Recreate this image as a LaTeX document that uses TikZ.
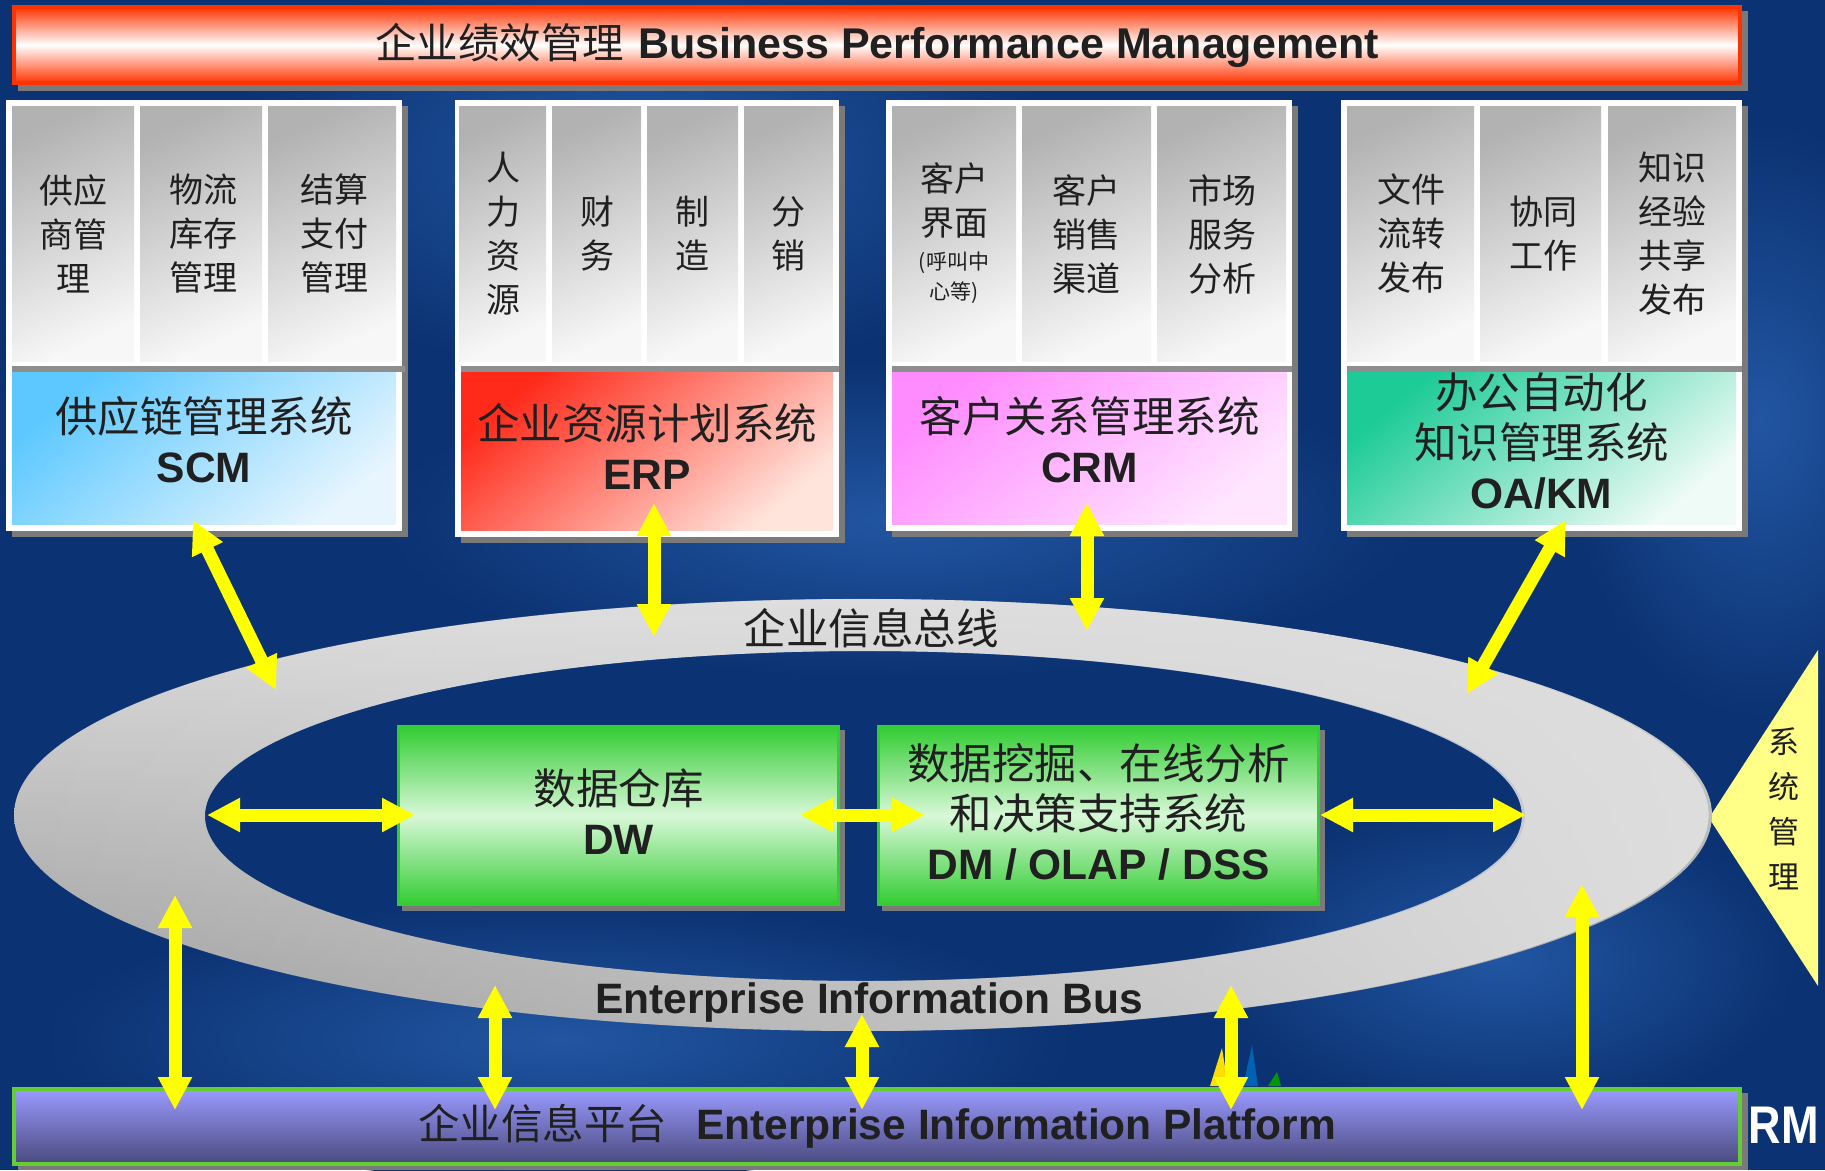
\documentclass[tikz,border=0pt]{standalone}
\usepackage{fontspec}
\setmainfont{Liberation Sans}
\newfontfamily\cjk{Noto Sans CJK SC}
\usetikzlibrary{arrows.meta,fadings}

\definecolor{navy}{HTML}{0B3272}
\definecolor{navylight}{HTML}{2256A2}
\definecolor{ink}{HTML}{202020}
\definecolor{titlered}{HTML}{FF3300}
\definecolor{shadowgray}{HTML}{7A7A7A}
\definecolor{ringlight}{HTML}{DEDEDE}
\definecolor{ringdark}{HTML}{9C9C9C}
\definecolor{scmdark}{HTML}{5CC8FF}
\definecolor{scmlight}{HTML}{E6F5FE}
\definecolor{erpdark}{HTML}{FF2A1A}
\definecolor{erplight}{HTML}{FFE4DC}
\definecolor{crmdark}{HTML}{FF8CFF}
\definecolor{crmlight}{HTML}{FFE6FF}
\definecolor{oadark}{HTML}{1CCB96}
\definecolor{oalight}{HTML}{EEFBF6}
\definecolor{dwgreen}{HTML}{33CC33}
\definecolor{dwpale}{HTML}{D8F8D8}
\definecolor{plattop}{HTML}{9A9AFF}
\definecolor{platbottom}{HTML}{4A4A7E}
\definecolor{platedge}{HTML}{66CC33}
\definecolor{sysyellow}{HTML}{FFFF88}
\definecolor{arrowyellow}{HTML}{FFFF00}

\begin{document}
\begin{tikzpicture}[x=1pt,y=-1pt,
  panel/.style={top color=black!30, bottom color=black!3, shading angle=25},
  coltext/.style={font=\cjk\fontsize{34}{44}\selectfont, text=ink, align=center, inner sep=0pt},
  smalltext/.style={font=\cjk\fontsize{21}{30}\selectfont, text=ink, align=center, inner sep=0pt},
  sysbox/.style 2 args={top color=#1, bottom color=#2, shading angle=40, inner sep=0pt},
  boxtext/.style={text=ink, align=center, inner sep=0pt, font=\fontsize{42.5}{50}\selectfont},
  greenbox/.style={top color=dwgreen, bottom color=dwgreen, middle color=dwpale,
    draw=dwgreen, line width=3pt, inner sep=0pt, minimum width=440pt, minimum height=178pt},
  yarrow/.style={draw=arrowyellow, line width=13pt,
    {Triangle[length=33pt,width=32pt]}-{Triangle[length=33pt,width=32pt]}},
]
\useasboundingbox (0,0) rectangle (1825,1170);

% backdrop
\fill[navy] (0,0) rectangle (1825,1170);
\shade[inner color=navylight, outer color=navy] (640,160) ellipse [x radius=420pt, y radius=220pt];
\shade[inner color=navylight, outer color=navy] (900,520) ellipse [x radius=520pt, y radius=160pt];
\shade[inner color=navylight, outer color=navy] (1760,420) ellipse [x radius=200pt, y radius=300pt];
\shade[inner color=navylight, outer color=navy] (560,1040) ellipse [x radius=520pt, y radius=140pt];
\shade[inner color=navylight, outer color=navy] (1500,960) ellipse [x radius=300pt, y radius=160pt];

% faint mark behind the platform
\node[anchor=base east, text=white, font=\fontsize{53}{53}\selectfont\bfseries, inner sep=0pt, xscale=0.85]
  (crmmark) at (1819,1143) {CRM};

% system management wedge
\fill[sysyellow] (1709,818) -- (1818,650) -- (1818,986) -- cycle;
\node[font=\cjk\fontsize{31}{45}\selectfont, text=ink, align=center, inner sep=0pt]
  (sysmgmt) at (1784,809) {系\\统\\管\\理};

% enterprise information bus ring: darker towards the lower left
\shade[even odd rule, top color=ringlight, bottom color=ringdark]
  (863,815) ellipse [x radius=849pt, y radius=216pt]
  (865,816) ellipse [x radius=660pt, y radius=165pt];
\fill[ringlight, even odd rule, path fading=west]
  (863,815) ellipse [x radius=849pt, y radius=216pt]
  (865,816) ellipse [x radius=660pt, y radius=165pt];
\node[font=\cjk\fontsize{42.5}{42.5}\selectfont, text=ink, inner sep=0pt] (buscn) at (871,628) {企业信息总线};
\node[font=\bfseries\fontsize{42.5}{42.5}\selectfont, text=ink, inner sep=0pt] (busen) at (869,1002) {Enterprise Information Bus};

% business performance management banner
\fill[shadowgray] (18,11) rectangle (1748,91);
\node[top color=titlered, bottom color=titlered, middle color=white, draw=titlered, line width=4pt,
  minimum width=1726pt, minimum height=76pt, inner sep=0pt, text=ink] (title) at (877,45)
  {{\cjk\fontsize{41.5}{41.5}\selectfont 企业绩效管理}\hspace{14pt}{\bfseries\fontsize{43}{43}\selectfont Business Performance Management}};

% module frames
\fill[shadowgray] (12,106) rectangle (408,537);
\fill[white] (6,100) rectangle (402,531);
\fill[shadowgray] (461,106) rectangle (845,543);
\fill[white] (455,100) rectangle (839,537);
\fill[shadowgray] (892,106) rectangle (1298,537);
\fill[white] (886,100) rectangle (1292,531);
\fill[shadowgray] (1347,106) rectangle (1748,537);
\fill[white] (1341,100) rectangle (1742,531);

\foreach \a/\b in {12/134,140/262,268/396,459/546,552/641,647/738,744/833,
                   892/1016,1022/1151,1157/1286,1347/1474,1480/1601,1608/1736}
  \shade[panel] (\a,106) rectangle (\b,361);

\fill[shadowgray!85] (12,366) rectangle (405,372);
\fill[shadowgray!85] (461,366) rectangle (839,372);
\fill[shadowgray!85] (892,366) rectangle (1292,372);
\fill[shadowgray!85] (1347,366) rectangle (1742,372);

% module functions
\node[coltext] (f11) at (73,234) {供应\\商管\\理};
\node[coltext] (f12) at (203,234) {物流\\库存\\管理};
\node[coltext] (f13) at (334,234) {结算\\支付\\管理};
\node[coltext] (f21) at (503,234) {人\\力\\资\\源};
\node[coltext] (f22) at (597,234) {财\\务};
\node[coltext] (f23) at (692,234) {制\\造};
\node[coltext] (f24) at (788,234) {分\\销};
\node[coltext] (f31) at (954,201) {客户\\界面};
\node[smalltext] (f31s) at (954,278) {(呼叫中\\心等)};
\node[coltext] (f32) at (1086,234) {客户\\销售\\渠道};
\node[coltext] (f33) at (1222,234) {市场\\服务\\分析};
\node[coltext] (f41) at (1411,234) {文件\\流转\\发布};
\node[coltext] (f42) at (1543,234) {协同\\工作};
\node[coltext] (f43) at (1672,234) {知识\\经验\\共享\\发布};

% module systems
\node[sysbox={scmdark}{scmlight}, minimum width=384pt, minimum height=152pt] (scm) at (204,448) {};
\node[sysbox={erpdark}{erplight}, minimum width=372pt, minimum height=158pt] (erp) at (647,451) {};
\node[sysbox={crmdark}{crmlight}, minimum width=395pt, minimum height=152pt] (crm) at (1089.5,448) {};
\node[sysbox={oadark}{oalight}, minimum width=389pt, minimum height=152pt] (oakm) at (1541.5,448) {};
\node[boxtext] (scmtext) at (204,440) {{\cjk 供应链管理系统}\\\textbf{SCM}};
\node[boxtext] (erptext) at (647,446) {{\cjk 企业资源计划系统}\\\textbf{ERP}};
\node[boxtext] (crmtext) at (1089.5,440) {{\cjk 客户关系管理系统}\\\textbf{CRM}};
\node[boxtext] (oakmtext) at (1541.5,441) {{\cjk 办公自动化}\\{\cjk 知识管理系统}\\\textbf{OA/KM}};

% data warehouse and analysis
\fill[shadowgray] (402,730) rectangle (845,911);
\fill[shadowgray] (882,730) rectangle (1325,911);
\node[greenbox] (dw) at (618.5,815.5) {};
\node[greenbox] (dm) at (1098.5,815.5) {};
\node[boxtext] (dwtext) at (618.5,812) {{\cjk 数据仓库}\\\textbf{DW}};
\node[boxtext] (dmtext) at (1098.5,812)
  {{\cjk 数据挖掘、在线分析}\\{\cjk 和决策支持系统}\\\textbf{DM / OLAP / DSS}};

% small spikes peeking above the platform
\fill[yellow!80!orange] (1210,1086) -- (1222,1048) -- (1228,1086) -- cycle;
\fill[blue!45!cyan!70!black] (1243,1086) -- (1252,1045) -- (1258,1086) -- cycle;
\fill[green!60!black] (1268,1086) -- (1277,1072) -- (1281,1086) -- cycle;

% enterprise information platform
\fill[shadowgray] (18,1093) rectangle (1748,1170);
\node[top color=plattop, bottom color=platbottom, draw=platedge, line width=4pt,
  minimum width=1726pt, minimum height=75pt, inner sep=0pt, text=ink] (platform) at (877,1126.5)
  {{\cjk\fontsize{41.5}{41.5}\selectfont 企业信息平台}\hspace{29pt}{\bfseries\fontsize{42.5}{42.5}\selectfont Enterprise Information Platform}};

% connector end points
\coordinate (scmEnd) at (193,520);   \coordinate (busSCM) at (276,690);
\coordinate (erpEnd) at (654,503);   \coordinate (busERP) at (654,637);
\coordinate (crmEnd) at (1087,503);  \coordinate (busCRM) at (1087,631);
\coordinate (oaEnd)  at (1566,520);  \coordinate (busOA)  at (1467,694);
\coordinate (busW)   at (207,815);   \coordinate (dwW)    at (415,815);
\coordinate (dwE)    at (800,815);   \coordinate (dmW)    at (925,815);
\coordinate (dmE)    at (1320,815);  \coordinate (busE)   at (1526,815);
\coordinate (busB1)  at (175,895);   \coordinate (plat1)  at (175,1110);
\coordinate (busB2)  at (495,985);   \coordinate (plat2)  at (495,1110);
\coordinate (busB3)  at (862,1014);  \coordinate (plat3)  at (862,1110);
\coordinate (busB4)  at (1231,985);  \coordinate (plat4)  at (1231,1110);
\coordinate (busB5)  at (1582,884);  \coordinate (plat5)  at (1582,1110);

% yellow double arrows
\draw[yarrow] (scmEnd) -- (busSCM);
\draw[yarrow] (erpEnd) -- (busERP);
\draw[yarrow] (crmEnd) -- (busCRM);
\draw[yarrow] (oaEnd) -- (busOA);
\draw[yarrow] (busW) -- (dwW);
\draw[yarrow] (dwE) -- (dmW);
\draw[yarrow] (dmE) -- (busE);
\draw[yarrow] (busB1) -- (plat1);
\draw[yarrow] (busB2) -- (plat2);
\draw[yarrow] (busB3) -- (plat3);
\draw[yarrow] (busB4) -- (plat4);
\draw[yarrow] (busB5) -- (plat5);
\end{tikzpicture}
\end{document}
